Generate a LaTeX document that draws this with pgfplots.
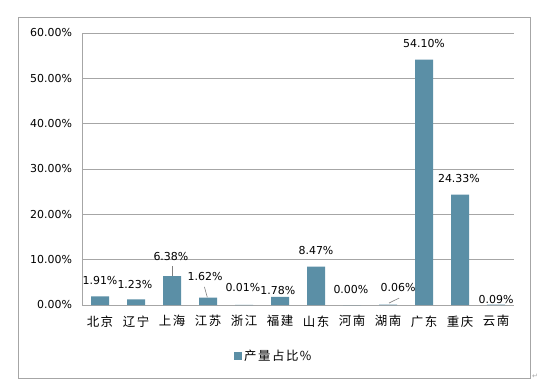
\documentclass[border=0pt]{standalone}
\usepackage{fontspec}
\setmainfont{DejaVu Sans}
\newfontfamily\cjk[LetterSpace=12]{Noto Sans CJK SC}
\usepackage{pgfplots}
\pgfplotsset{compat=1.18}
\definecolor{barc}{HTML}{5B8FA6}
\definecolor{gridc}{HTML}{A6A6A6}
\begin{document}
\begin{tikzpicture}[x=1bp,y=1bp]
\path (0,0) rectangle (552,388);
\draw[gridc, line width=0.8bp] (18,10) rectangle (530,371);
\node[gridc, font=\fontsize{7}{8}\selectfont, inner sep=0] at (535,12) {↵};
\begin{axis}[at={(82bp,83bp)}, anchor=south west, scale only axis,
  width=432bp, height=272bp,
  xmin=-0.5, xmax=11.5, ymin=0, ymax=60, clip=false,
  /pgf/number format/assume math mode=true,
  xtick={0,...,11},
  xticklabels={北京,辽宁,上海,江苏,浙江,福建,山东,河南,湖南,广东,重庆,云南},
  xticklabel style={font=\cjk\fontsize{12.5}{14}\selectfont, yshift=-7bp},
  ytick={0,10,...,60},
  yticklabel={\pgfmathprintnumber[fixed,fixed zerofill,precision=2,assume math mode=true]{\tick}\%},
  yticklabel style={font=\fontsize{11}{13}\selectfont, xshift=-6.5bp},
  ymajorgrids, grid style={gridc, line width=0.8bp},
  axis lines*=left, axis line style={-, gridc, line width=0.8bp},
  major tick length=0pt, tick style={draw=none},
  legend style={at={(axis description cs:0.444,-0.1875)}, anchor=center, draw=none,
    font=\cjk\fontsize{12.5}{14}\selectfont,
    /tikz/every even column/.append style={column sep=0pt}},
  legend image code/.code={\fill[barc] (-2bp,-4bp) rectangle (6bp,4bp);},
]
\addplot[ybar, bar width=0.5, fill=barc, draw=none] coordinates {
 (0,1.91) (1,1.23) (2,6.38) (3,1.62) (4,0.01) (5,1.78)
 (6,8.47) (7,0.00) (8,0.06) (9,54.10) (10,24.33) (11,0.09)};
\addlegendentry{产量占比\%}
\addplot[gray, line width=0.6bp, forget plot] coordinates {(2,8.6) (2,6.45)};
\addplot[gray, line width=0.6bp, forget plot] coordinates {(2.90,4.0) (2.98,1.7)};
\addplot[gray, line width=0.6bp, forget plot] coordinates {(8.03,0.44) (8.31,1.54)};
\addplot[draw=none, mark=none, forget plot, nodes near coords, point meta=explicit symbolic,
  nodes near coords style={anchor=center, font=\fontsize{11}{13}\selectfont, inner sep=0pt}]
 table[x=x, y=y, meta=lab] {
x y lab
0.00 5.5 1.91\%
0.97 4.6 1.23\%
1.97 10.8 6.38\%
2.92 6.2 1.62\%
3.97 3.75 0.01\%
4.94 3.3 1.78\%
6.00 12.1 8.47\%
6.97 3.5 0.00\%
8.28 3.75 0.06\%
9.00 57.6 54.10\%
9.97 27.8 24.33\%
11.00 1.3 0.09\%
};
\end{axis}
\end{tikzpicture}
\end{document}
